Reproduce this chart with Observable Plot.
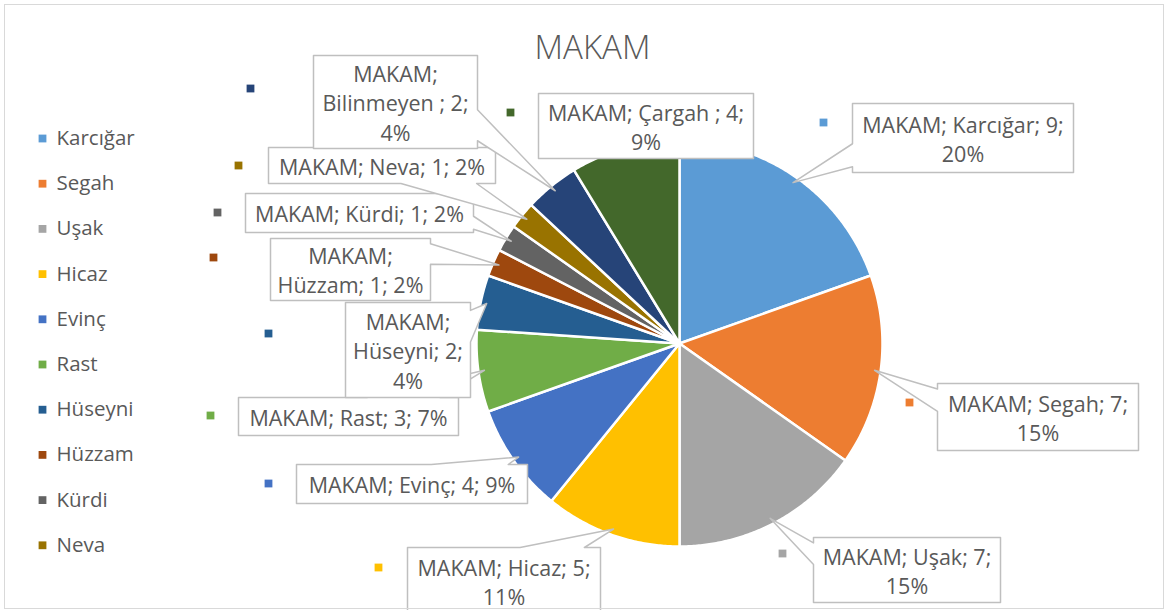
<!DOCTYPE html>
<html><head><meta charset="utf-8">
<script src="https://cdn.jsdelivr.net/npm/d3@7"></script>
<script src="https://cdn.jsdelivr.net/npm/@observablehq/plot@0.6"></script>
<style>
body{margin:0;background:#fff;}
#wrap{position:relative;width:1167px;height:610px;overflow:hidden;background:#fff}
#frame{position:absolute;left:4px;top:4px;width:1158px;height:603px;border:1px solid #d9d9d9;pointer-events:none}
</style></head><body><div id="wrap"><div id="chart"></div><div id="frame"></div></div>
<script>
// ---- data ----
const seriesName = "MAKAM";
const categories = ["Karcığar","Segah","Uşak","Hicaz","Evinç","Rast","Hüseyni","Hüzzam","Kürdi","Neva","Bilinmeyen ","Çargah "];
const values = [9,7,7,5,4,3,2,1,1,1,2,4];
const colors = ["#5B9BD5","#ED7D31","#A5A5A5","#FFC000","#4472C4","#70AD47","#255E91","#9E480E","#636363","#997300","#264478","#43682B"];
const legendShown = 10; // legend is truncated after "Neva"

// ---- layout (pixels) ----
const pie = {cx: 679, cy: 343, r: 203};
const labelBoxes = [[852,103,221,69],[937,383,201,67],[813,537,187,65],[407,547,193,68],[296,464,231,39],[238,397,220,38],[345,302,125,95],[270,238,160,62],[245,193,228,39],[268,147,227,36],[313,55,164,93],[538,93,215,65]];
const labelLines = [[3,1],[3,1],[3,1],[3,1],[4],[4],[1,2,1],[1,3],[4],[4],[1,2,1],[3,1]];
const labelKeys = [[823,122],[909,402],[782,553],[378,567],[268,483],[210,415],[268,333],[213,257],[217,212],[238,165],[250,88],[510,112]];

const total = d3.sum(values);
const P = (a, r) => [pie.cx + r * Math.sin(a), pie.cy - r * Math.cos(a)];

// slices
const slicePts = [];
const tips = [];
let acc = 0;
categories.forEach((name, i) => {
  const a0 = acc / total * 2 * Math.PI;
  acc += values[i];
  const a1 = acc / total * 2 * Math.PI;
  const n = Math.max(2, Math.ceil((a1 - a0) / (Math.PI / 360)));
  const c = P(0, 0);
  slicePts.push({name, x: c[0], y: c[1]});
  for (let k = 0; k <= n; k++) {
    const p = P(a0 + (a1 - a0) * k / n, pie.r);
    slicePts.push({name, x: p[0], y: p[1]});
  }
  tips.push(P((a0 + a1) / 2, pie.r * 0.97));
});

// callouts
function callout(bx, by, w, h, tx, ty) {
  const cx = bx + w / 2, cy = by + h / 2;
  if (tx >= bx && tx <= bx + w && ty >= by && ty <= by + h)
    return [[bx,by],[bx+w,by],[bx+w,by+h],[bx,by+h]];
  const dx = (tx - cx) / w, dy = (ty - cy) / h;
  if (Math.abs(dx) * 1.1 >= Math.abs(dy)) {
    const ya = dy < 0 ? [by + h/12, by + h*5/12] : [by + h*7/12, by + h*11/12];
    if (dx < 0) return [[bx,by],[bx+w,by],[bx+w,by+h],[bx,by+h],[bx,ya[1]],[tx,ty],[bx,ya[0]]];
    return [[bx,by],[bx+w,by],[bx+w,ya[0]],[tx,ty],[bx+w,ya[1]],[bx+w,by+h],[bx,by+h]];
  } else {
    const xa = dx < 0 ? [bx + w/12, bx + w*5/12] : [bx + w*7/12, bx + w*11/12];
    if (dy < 0) return [[bx,by],[xa[0],by],[tx,ty],[xa[1],by],[bx+w,by],[bx+w,by+h],[bx,by+h]];
    return [[bx,by],[bx+w,by],[bx+w,by+h],[xa[1],by+h],[tx,ty],[xa[0],by+h],[bx,by+h]];
  }
}
const calloutPts = [];
const labelTexts = [];
categories.forEach((name, i) => {
  const [bx, by, w, h] = labelBoxes[i];
  callout(bx, by, w, h, tips[i][0], tips[i][1]).forEach(([x, y]) => calloutPts.push({id: i, x, y}));
  const pct = Math.round(values[i] / total * 100);
  const tokens = [seriesName + ";", name + ";", values[i] + ";", pct + "%"];
  let k = 0;
  const lines = labelLines[i].map(c => { const s = tokens.slice(k, k + c).join(" "); k += c; return s; });
  labelTexts.push({x: bx + w / 2, y: by + h / 2, text: lines.join("\n")});
});
const keyPts = categories.map((name, i) => ({name, x: labelKeys[i][0], y: labelKeys[i][1]}));
const legendItems = categories.slice(0, legendShown).map((name, i) => ({name, y: 138 + i * 45.2}));

const chart = Plot.plot({
  width: 1167, height: 610, margin: 0,
  x: {domain: [0, 1167], range: [0, 1167], axis: null},
  y: {domain: [0, 610], range: [0, 610], axis: null},
  color: {domain: categories, range: colors},
  style: {fontFamily: "'Open Sans', sans-serif", background: "transparent", overflow: "hidden"},
  marks: [
    Plot.line(slicePts, {x: "x", y: "y", z: "name", fill: "name", stroke: "white", strokeWidth: 2.5, curve: "linear-closed"}),
    Plot.line(calloutPts, {x: "x", y: "y", z: "id", fill: "white", stroke: "#bfbfbf", strokeWidth: 1.5, curve: "linear-closed"}),
    Plot.text(labelTexts, {x: "x", y: "y", text: "text", fontSize: 21.5, lineHeight: 1.36, fill: "#595959", textAnchor: "middle"}),
    Plot.dot(keyPts, {x: "x", y: "y", fill: "name", symbol: "square", r: 4.4}),
    Plot.dot(legendItems, {x: 42, y: "y", fill: "name", symbol: "square", r: 4.4}),
    Plot.text(legendItems, {x: 56, y: "y", text: "name", fontSize: 20.5, fill: "#595959", textAnchor: "start"}),
    Plot.text([seriesName], {x: 592, y: 48, text: d => d, fontSize: 33, fontWeight: 300, fill: "#595959"})
  ]
});
document.getElementById("chart").appendChild(chart);
</script></body></html>
